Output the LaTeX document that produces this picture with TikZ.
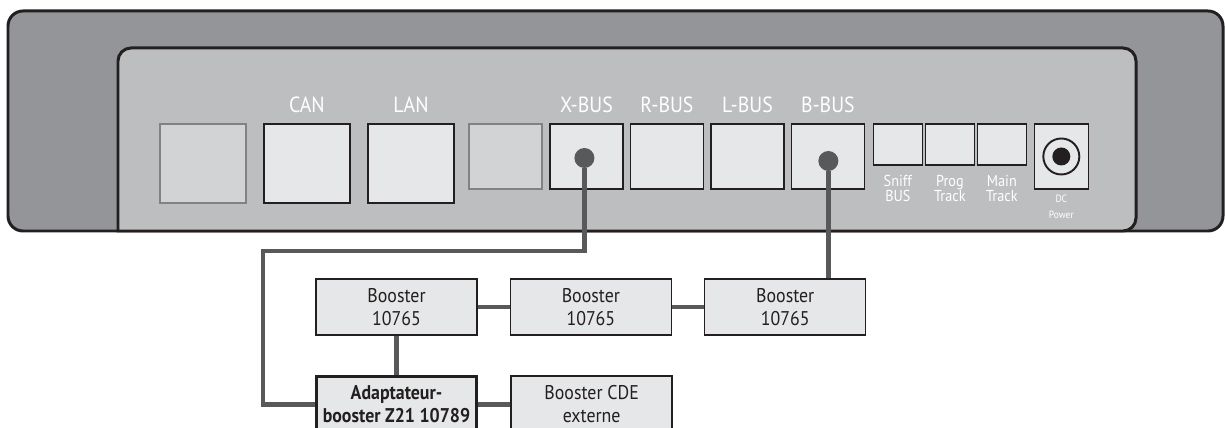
\documentclass[tikz,border=0pt]{standalone}
\usepackage{fontspec}
\setmainfont{PT Sans}[FakeStretch=0.9]
\usepackage{tikz}
\usetikzlibrary{positioning,calc}
\definecolor{shell}{HTML}{939598}
\definecolor{panel}{HTML}{BCBEC0}
\definecolor{ink}{HTML}{231F20}
\definecolor{portbg}{HTML}{E6E7E8}
\definecolor{blankbg}{HTML}{D1D3D4}
\definecolor{blankln}{HTML}{808285}
\definecolor{cablegray}{HTML}{58595B}

\begin{document}
\begin{tikzpicture}[x=0.02cm,y=-0.02cm,font=\fontsize{11.3}{13}\selectfont,
  port/.style={draw=ink,fill=portbg,line width=0.8pt,inner sep=0pt,outer sep=0pt,anchor=north west,minimum width=1.46cm,minimum height=1.3cm},
  big/.style={minimum width=1.72cm,minimum height=1.58cm},
  sm/.style={minimum width=0.98cm,minimum height=0.82cm},
  dead/.style={draw=blankln,fill=blankbg},
  lbl/.style={white,inner sep=0pt,font=\fontsize{12.5}{14}\selectfont},
  sub/.style={white,inner sep=0pt,align=center,font=\fontsize{9}{8.5}\selectfont},
  bx/.style={draw=ink,fill=portbg,text=ink,line width=0.8pt,inner sep=0pt,align=center,minimum width=3.22cm,minimum height=1.12cm},
  plug/.style={circle,fill=cablegray,inner sep=0pt,minimum size=0.4cm},
  cable/.style={draw=cablegray,line width=2.7pt}]
\useasboundingbox (0,0) rectangle (1225,428);
% housing
\draw[fill=shell,draw=ink,line width=1.7pt,rounded corners=0.3cm] (8,11) rectangle (1223,231);
\draw[fill=panel,draw=ink,line width=1.7pt] (118,231) [rounded corners=0.26cm] -- (118,48) -- (1136,48) -- (1136,231) [sharp corners] -- cycle;
% sockets
\node[port,big,dead] (p1) at (160,124) {};
\node[port,big,right=0.36cm of p1.north east,anchor=north west] (can) {};
\node[port,big,right=0.36cm of can.north east,anchor=north west] (lan) {};
\node[port,dead,right=0.3cm of lan.north east,anchor=north west] (p4) {};
\node[port,right=0.16cm of p4.north east,anchor=north west] (xbus) {};
\node[port,right=0.15cm of xbus.north east,anchor=north west] (rbus) {};
\node[port,right=0.15cm of rbus.north east,anchor=north west] (lbus) {};
\node[port,right=0.15cm of lbus.north east,anchor=north west] (bbus) {};
\node[port,sm,right=0.18cm of bbus.north east,anchor=north west] (sniff) {};
\node[port,sm,right=0.06cm of sniff.north east,anchor=north west] (prog) {};
\node[port,sm,right=0.06cm of prog.north east,anchor=north west] (main) {};
\node[port,minimum width=1.08cm,right=0.16cm of main.north east,anchor=north west] (dc) {};
\node[lbl,above=0.22cm of can]{CAN};
\node[lbl,above=0.22cm of lan]{LAN};
\node[lbl,above=0.22cm of xbus]{X-BUS};
\node[lbl,above=0.22cm of rbus]{R-BUS};
\node[lbl,above=0.22cm of lbus]{L-BUS};
\node[lbl,above=0.22cm of bbus]{B-BUS};
\node[sub,below=0.2cm of sniff]{Sniff\\BUS};
\node[sub,below=0.2cm of prog]{Prog\\Track};
\node[sub,below=0.2cm of main]{Main\\Track};
\node[sub,font=\fontsize{6}{9}\selectfont,below=0.12cm of dc]{DC\\Power};
\node[circle,draw=ink,line width=1.1pt,minimum size=0.72cm,inner sep=0pt] (ring) at (dc.center) {};
\node[circle,fill=ink,minimum size=0.36cm,inner sep=0pt] at (ring) {};
\node[plug] (xplug) at ([shift={(-2,1.5)}]xbus.center) {};
\node[plug] (bplug) at ([shift={(0.5,4.5)}]bbus.center) {};
% boosters
\node[bx] (b1) at (396.5,307) {Booster\\10765};
\node[bx,right=0.64cm of b1] (b2) {Booster\\10765};
\node[bx,right=0.64cm of b2] (b3) {Booster\\10765};
\node[bx,line width=1.7pt,font=\fontsize{11.3}{13}\selectfont\bfseries,below=0.78cm of b1] (adapt) {Adaptateur-\\booster Z21 10789};
\node[bx,right=0.64cm of adapt] (cde) {Booster CDE\\externe};
% wiring
\coordinate (turn) at (263,251);
\draw[cable] (xplug.south) |- (turn) |- (adapt.west);
\draw[cable] (bplug.south) -- (bplug.south |- b3.north);
\draw[cable] (b1)--(b2);\draw[cable] (b2)--(b3);
\draw[cable] (b1)--(adapt);\draw[cable] (adapt)--(cde);
\end{tikzpicture}
\end{document}
